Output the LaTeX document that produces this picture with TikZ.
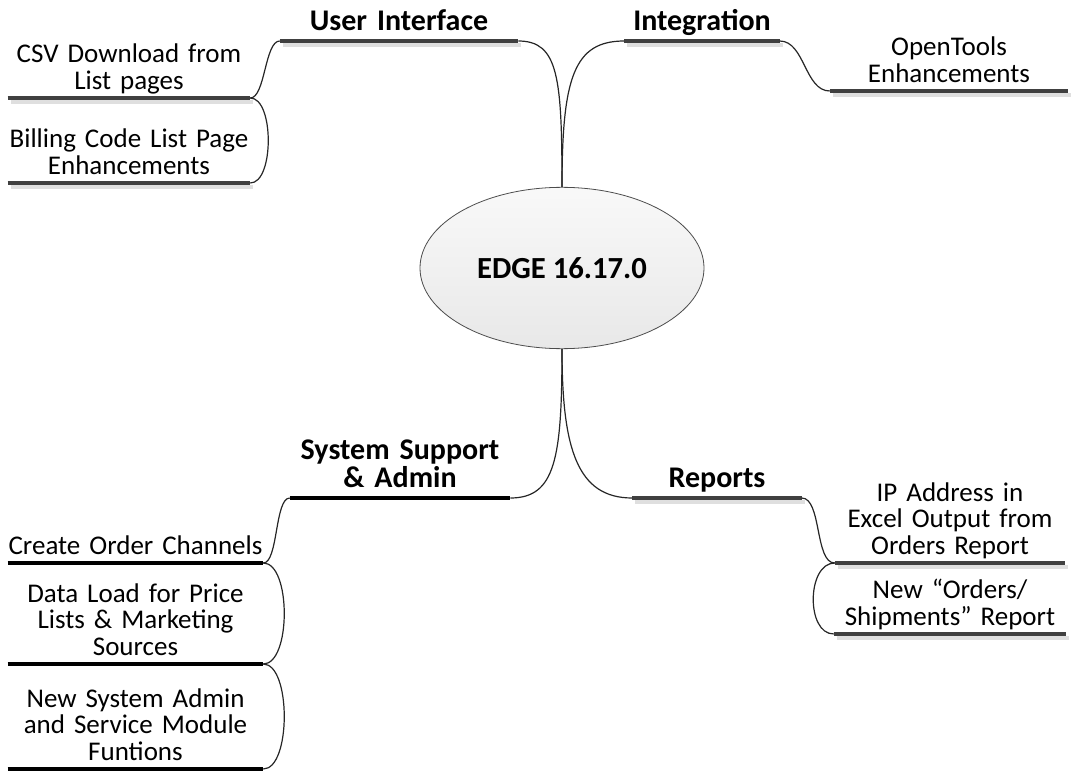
\documentclass[tikz,border=0pt]{standalone}
\usepackage{fontspec}
\setmainfont{Carlito}
\usetikzlibrary{shapes.geometric}

\tikzset{
  topic/.style={anchor=south, align=center, text width=#1, inner xsep=0pt, inner ysep=0.5pt,
    font=\fontsize{20.25}{19.8}\selectfont, execute at end node=\strut},
  head/.style={topic=#1, inner ysep=1.2pt, font=\fontsize{22.5}{21}\selectfont\bfseries},
  hub/.style={ellipse, draw=black!70, line width=0.6pt, top color=gray!5, bottom color=gray!18,
    minimum width=213pt, minimum height=121pt, inner sep=0pt, font=\fontsize{23}{25}\selectfont\bfseries},
  graybar/.style={draw=black!75, line width=3.4pt},
  blackbar/.style={draw=black, line width=3.4pt},
  barshadow/.style={draw=gray!25, line width=3.4pt},
  link/.style={draw=black!85, line width=0.9pt}
}

\begin{document}
\begin{tikzpicture}[x=0.75pt, y=-0.75pt]
  \useasboundingbox (0,0) rectangle (1076,774);

  \node[hub] (edge) at (562,268) {EDGE 16.17.0};

  \node[head=178.5pt] (ui) at (399,41) {User Interface};
  \node[head=116.25pt] (intg) at (702,41) {Integration};
  \node[topic=178.5pt] (open) at (949,91) {OpenTools\\ Enhancements};
  \node[topic=181.5pt] (csv) at (129,98) {CSV Download from\\ List pages};
  \node[topic=181.5pt] (bill) at (129,183) {Billing Code List Page\\ Enhancements};

  \node[head=165pt] (ssa) at (400,498) {System Support\\ \& Admin};
  \node[head=126.75pt] (rep) at (717,498) {Reports};
  \node[topic=172.5pt] (ip) at (950,563) {IP Address in\\ Excel Output from\\ Orders Report};
  \node[topic=174pt] (neword) at (950,634) {New “Orders/\\ Shipments” Report};
  \node[topic=191.25pt] (create) at (135.5,563) {Create Order Channels};
  \node[topic=191.25pt] (load) at (135.5,664) {Data Load for Price\\ Lists \& Marketing\\ Sources};
  \node[topic=191.25pt] (sysadm) at (135.5,769) {New System Admin\\ and Service Module\\ Funtions};

  \foreach \n in {ui,intg,open,csv,bill,rep,ip,neword}
    \draw[barshadow] ([shift={(3,4)}]\n.south west) -- ([shift={(3,4)}]\n.south east);
  \foreach \n in {ui,intg,open,csv,bill,rep,ip,neword}
    \draw[graybar] (\n.south west) -- (\n.south east);
  \foreach \n in {ssa,create,load,sysadm}
    \draw[blackbar] (\n.south west) -- (\n.south east);

  \draw[link] (ui.south east) .. controls +(40,0) and +(0,-110) .. (edge.north);
  \draw[link] (edge.north) .. controls +(0,-110) and +(-50,0) .. (intg.south west);
  \draw[link] (ui.south west) .. controls +(-15,0) and +(15,0) .. (csv.south east);
  \draw[link] (csv.south east) .. controls +(24,0) and +(24,0) .. (bill.south east);
  \draw[link] (intg.south east) .. controls +(25,0) and +(-25,0) .. (open.south west);

  \draw[link] (edge.south) .. controls +(0,110) and +(45,0) .. (ssa.south east);
  \draw[link] (edge.south) .. controls +(0,100) and +(-55,0) .. (rep.south west);
  \draw[link] (rep.south east) .. controls +(20,0) and +(-20,0) .. (ip.south west);
  \draw[link] (ip.south west) .. controls +(-28,0) and +(-28,0) .. (neword.south west);
  \draw[link] (ssa.south west) .. controls +(-15,0) and +(15,0) .. (create.south east);
  \draw[link] (create.south east) .. controls +(28,0) and +(28,0) .. (load.south east);
  \draw[link] (load.south east) .. controls +(28,0) and +(28,0) .. (sysadm.south east);
\end{tikzpicture}
\end{document}
